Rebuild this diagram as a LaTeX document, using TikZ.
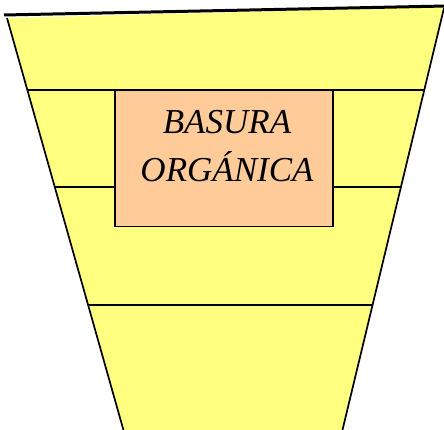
\documentclass[tikz,border=0pt]{standalone}
\usepackage{fontspec}
\setmainfont{Liberation Serif}
\definecolor{funnelyellow}{HTML}{FFFF80}
\definecolor{boxorange}{HTML}{FFCC99}
\tikzset{
  funnelside/.style={draw=black, line width=1.7pt},
  shelf/.style={draw=black, line width=2pt},
  labelbox/.style={draw=black, fill=boxorange, line width=1.4pt, minimum width=218pt, minimum height=136pt, inner sep=0pt},
  labeltext/.style={font=\fontsize{35}{40}\selectfont\itshape, inner sep=0pt}
}
\begin{document}
\begin{tikzpicture}[x=1pt, y=-1pt]
\useasboundingbox (0,0) rectangle (444,430);
% funnel body
\fill[funnelyellow] (7,18) -- (444,7) -- (444,8) -- (342,432) -- (124,432) -- cycle;
\draw[funnelside] (7,18) -- (124,432);
\draw[funnelside] (444,8) -- (342,432);
\draw[black, line width=3pt] (4,15) -- (446,6);
% shelves
\coordinate (s1l) at (27.4,90);  \coordinate (s1r) at (424.2,90);
\coordinate (s2l) at (55,187);   \coordinate (s2r) at (400.7,187);
\coordinate (s3l) at (88.5,305); \coordinate (s3r) at (372,305);
\draw[shelf] (s1l) -- (s1r);
\draw[shelf] (s2l) -- (s2r);
\draw[shelf] (s3l) -- (s3r);
% label box
\node[labelbox] (box) at (224,158.5) {};
\node[labeltext] (t1) at (227,122) {BASURA};
\node[labeltext] (t2) at (227,167) {ORGÁNICA};
\end{tikzpicture}
\end{document}
